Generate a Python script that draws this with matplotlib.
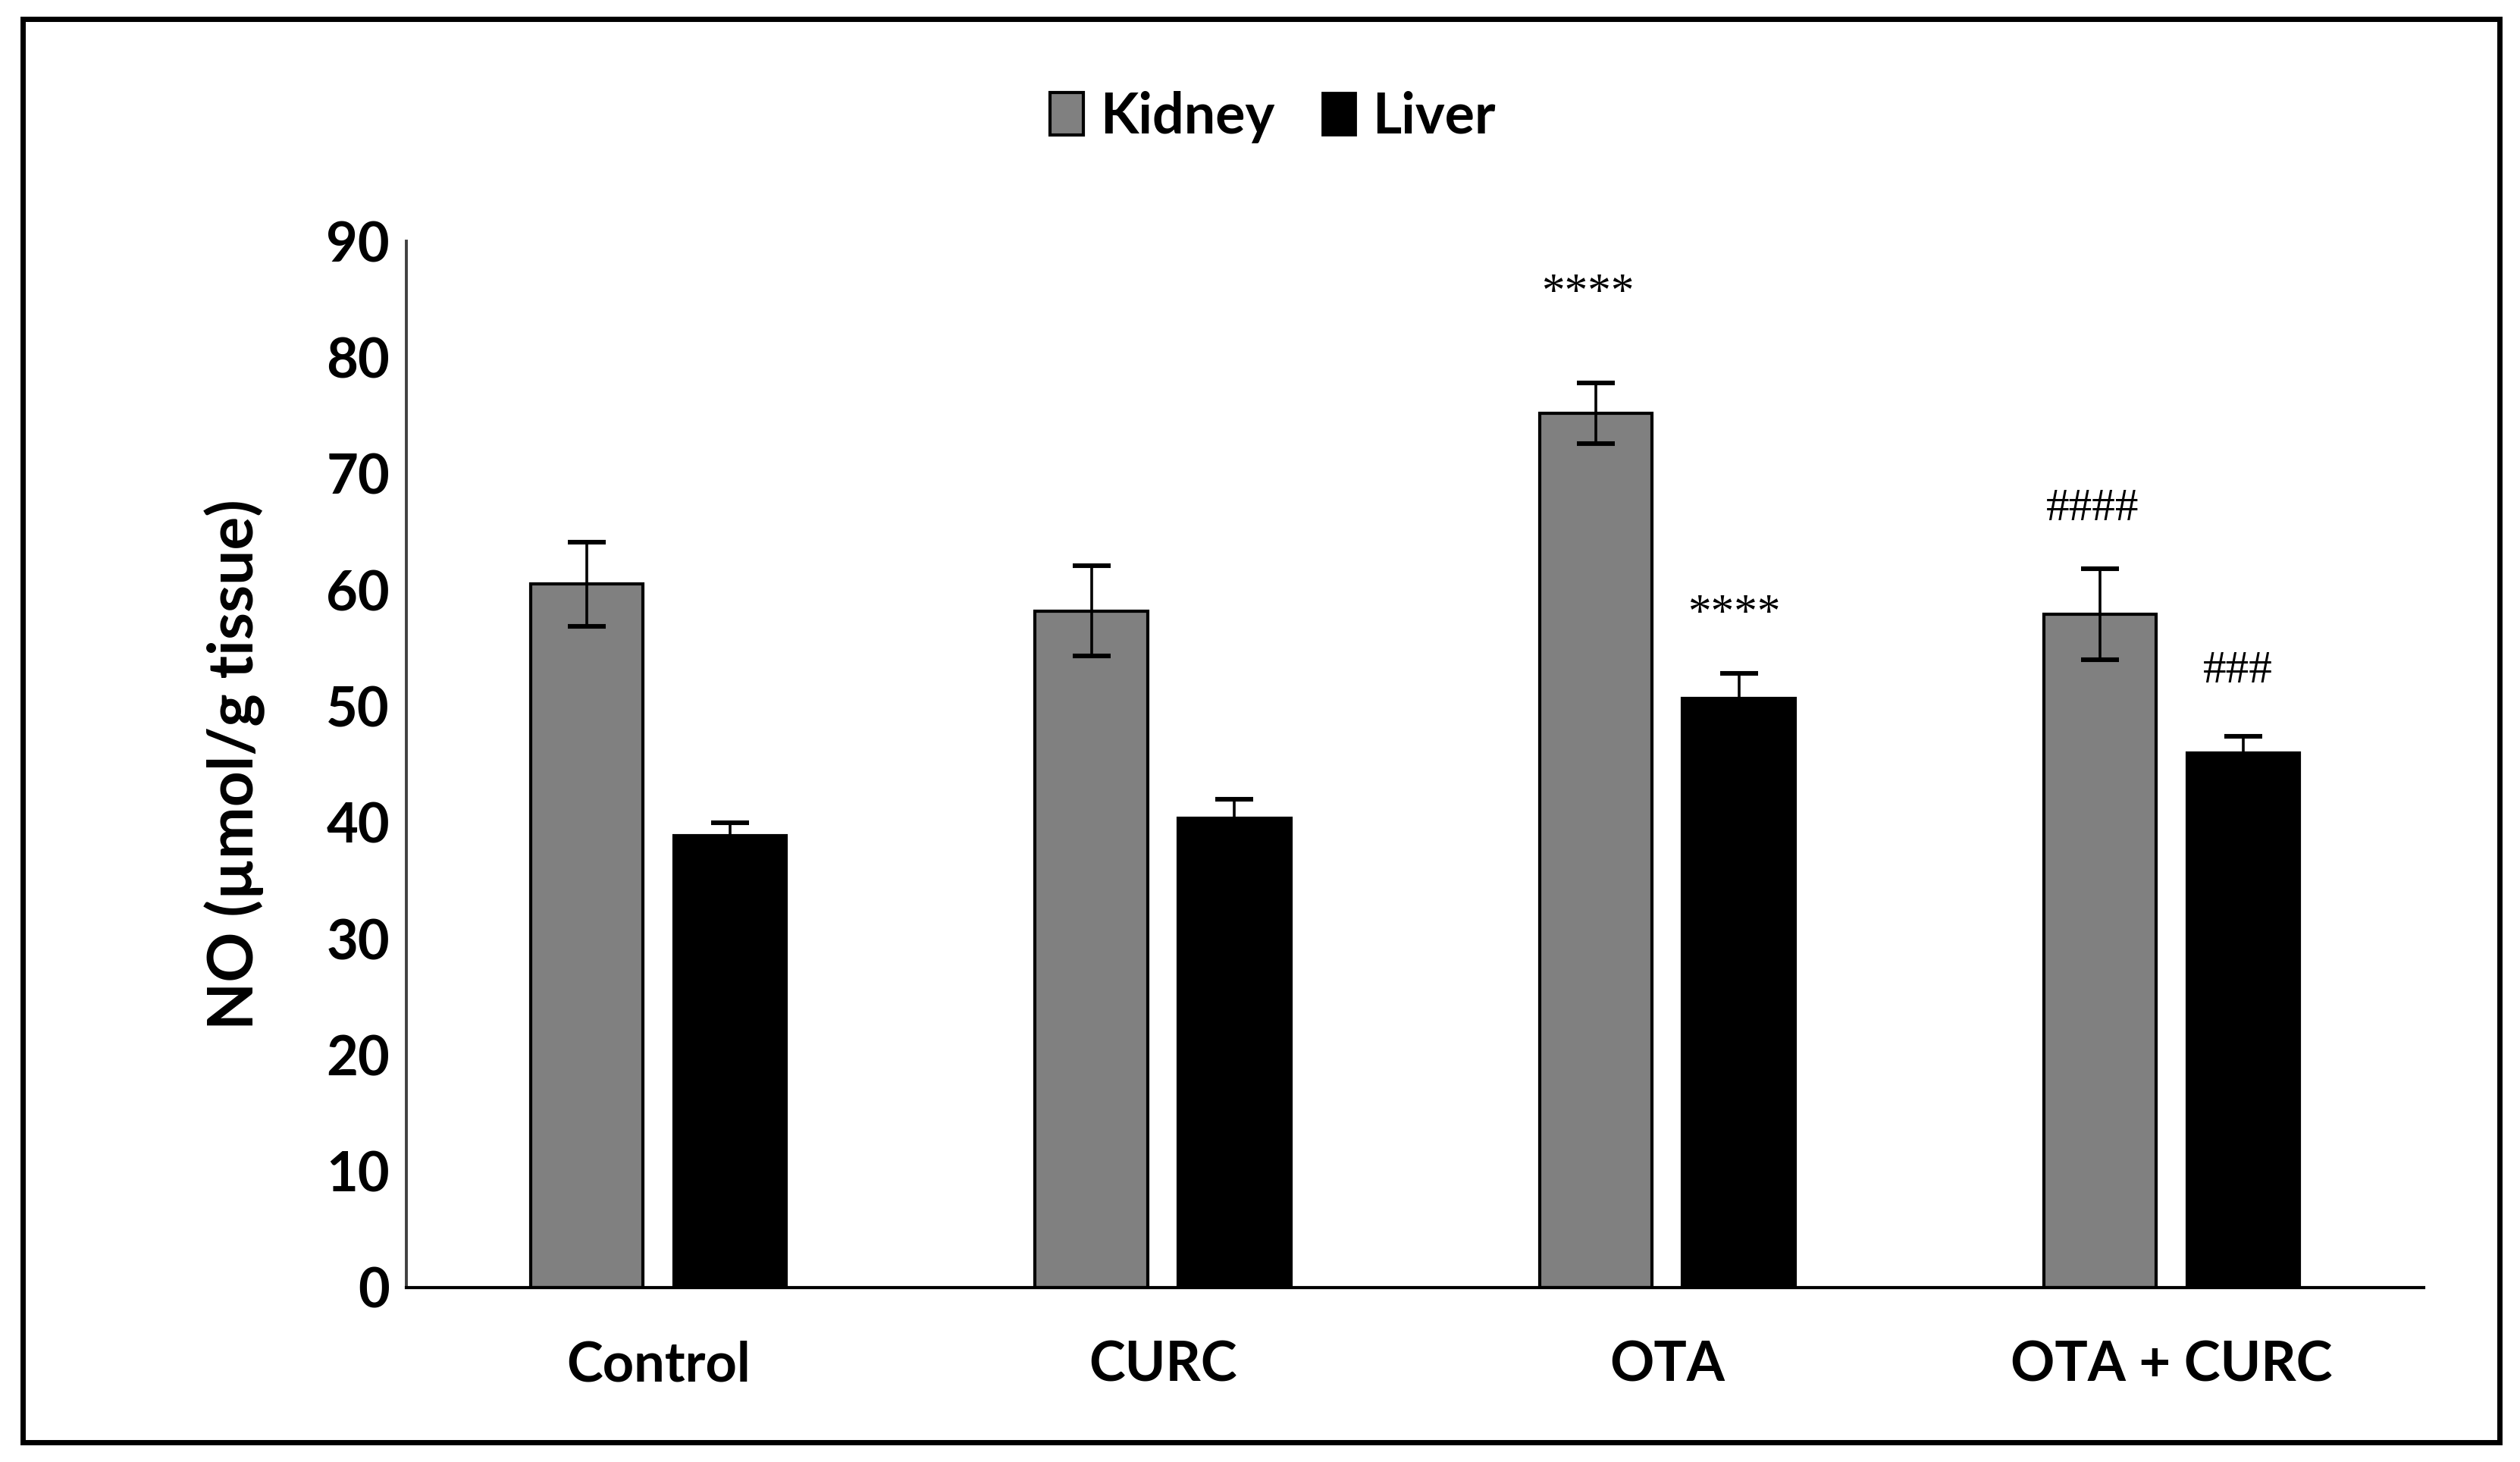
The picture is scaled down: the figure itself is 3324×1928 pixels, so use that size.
import matplotlib
matplotlib.use('Agg')
import matplotlib.pyplot as plt
from matplotlib.patches import Patch, Rectangle
import numpy as np

# Datos
grupos = ['Control', 'CURC', 'OTA', 'OTA + CURC']
rinon = [60.5, 58.2, 75.2, 57.9]
rinon_err = [3.6, 3.9, 2.6, 3.9]
higado = [38.9, 40.4, 50.7, 46.0]
higado_err = [1.1, 1.6, 2.1, 1.4]

# Marcas de significancia (texto, valor y)
marcas_rinon = ['', '', '****', '####']
marcas_rinon_y = [0, 0, 85.5, 67.0]
marcas_higado = ['', '', '****', '###']
marcas_higado_y = [0, 0, 57.9, 53.0]

plt.rcParams['font.family'] = ['Lato', 'DejaVu Sans']

fig = plt.figure(figsize=(16.62, 9.64), dpi=200)
ax = fig.add_axes([0.1613, 0.1193, 0.8005, 0.7157])

x = np.arange(len(grupos))
ancho = 0.223
desp = 0.142

ax.bar(x - desp, rinon, ancho, color='#808080', edgecolor='black', linewidth=1.5,
       label='Kidney', zorder=2)
ax.bar(x + desp, higado, ancho, color='black', edgecolor='black', linewidth=1.5,
       label='Liver', zorder=2)
ax.errorbar(x - desp, rinon, yerr=rinon_err, fmt='none', ecolor='black',
            elinewidth=1.3, capsize=9, capthick=2.2, zorder=3)
ax.errorbar(x + desp, higado, yerr=higado_err, fmt='none', ecolor='black',
            elinewidth=1.3, capsize=9, capthick=2.2, zorder=3)

for i in range(len(grupos)):
    if marcas_rinon[i]:
        ax.text(x[i] - desp - 0.015, marcas_rinon_y[i], marcas_rinon[i], ha='center',
                va='center', fontsize=22, family=['Liberation Serif'])
    if marcas_higado[i]:
        ax.text(x[i] + desp - 0.01, marcas_higado_y[i], marcas_higado[i], ha='center',
                va='center', fontsize=22, family=['Liberation Serif'])

ax.set_xlim(-0.5, len(grupos) - 0.5)
ax.set_ylim(0, 90)
ax.set_yticks(range(0, 91, 10))
ax.set_xticks(x)
ax.set_xticklabels(grupos, fontsize=26, fontweight='bold')
ax.tick_params(axis='y', length=0, pad=8, labelsize=26)
ax.tick_params(axis='x', length=0, pad=25)
for t in ax.get_yticklabels():
    t.set_fontweight('bold')

ax.set_ylabel('NO (µmol/g tissue)', fontsize=29.5, fontweight='bold', labelpad=29)

ax.spines['top'].set_visible(False)
ax.spines['right'].set_visible(False)
ax.spines['left'].set_color('#404040')
ax.spines['left'].set_linewidth(1.4)
ax.spines['bottom'].set_color('black')
ax.spines['bottom'].set_linewidth(1.5)

manejadores = [Patch(facecolor='#808080', edgecolor='black', linewidth=1.5, label='Kidney'),
               Patch(facecolor='black', edgecolor='black', label='Liver')]
fig.legend(handles=manejadores, loc='center', bbox_to_anchor=(0.505, 0.92), ncol=2,
           frameon=False, handlelength=0.6, handleheight=0.8, handletextpad=0.3,
           columnspacing=0.85, prop={'size': 26.5, 'weight': 'bold'})

# Marco exterior
fig.patches.append(Rectangle((30 / 3324, 1 - 1902 / 1928), 3267 / 3324, 1877 / 1928,
                             transform=fig.transFigure, fill=False, edgecolor='black',
                             linewidth=2.5))

fig.savefig('out.png', dpi=200, facecolor='white')
